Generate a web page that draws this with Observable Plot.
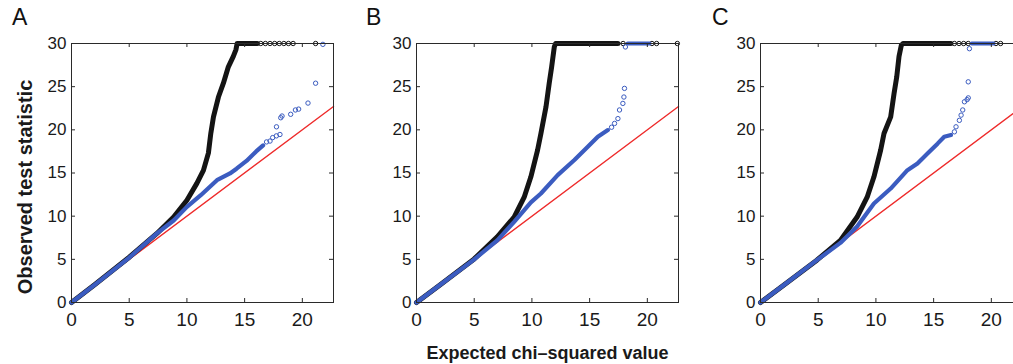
<!DOCTYPE html>
<html><head><meta charset="utf-8">
<script src="https://cdn.jsdelivr.net/npm/d3@7"></script>
<script src="https://cdn.jsdelivr.net/npm/@observablehq/plot@0.6"></script>
<style>
body{margin:0;background:#fff;}
#wrap{position:relative;width:1013px;height:364px;overflow:hidden;font-family:"Liberation Sans",Arial,sans-serif;}
.panel{position:absolute;top:0;}
.letter{position:absolute;top:4px;font-size:23px;color:#111;}
</style></head>
<body><div id="wrap"></div>
<script>
const xTicks = [0, 5, 10, 15, 20];
const yTicks = [0, 5, 10, 15, 20, 25, 30];
const panelLetters = ["A", "B", "C"];
const xDomain = [0, 22.7];
const yDomain = [0, 30];
const yLabel = "Observed test statistic";
const xLabel = "Expected chi\u2013squared value";

// Panel A
const aBlackX = [0, 2, 5, 7.4, 8.85, 10, 10.86, 11.43, 11.86, 12.07, 12.3, 12.73, 13.16, 13.59, 14.02, 14.25, 14.35, 16.1];
const aBlackY = [0, 2.05, 5.25, 8.0, 9.9, 11.85, 13.8, 15.3, 17.3, 19.6, 21.5, 23.8, 25.4, 27.3, 28.5, 29.3, 30, 30];
const aBlackCapX = [16.4, 16.8, 17.2, 17.6, 18.0, 18.4, 18.8, 19.2, 21.15];
const aBlueX = [0, 2, 5, 7.4, 8.85, 10, 11.2, 12.6, 13.73, 14.3, 15.16, 16.0, 16.6];
const aBlueY = [0, 2.05, 5.2, 8.0, 9.5, 11.08, 12.43, 14.17, 14.95, 15.5, 16.4, 17.5, 18.2];
const aBlueDotX = [16.9, 17.2, 17.43, 17.75, 18.06, 17.76, 18.13, 18.24, 18.99, 19.4, 19.68, 20.49, 21.15, 21.78];
const aBlueDotY = [18.6, 18.7, 19.1, 19.3, 19.46, 20.35, 21.4, 21.6, 21.8, 22.3, 22.4, 23.1, 25.4, 29.9];
const aBlueCapX = [];

// Panel B
const bBlackX = [0, 2, 5, 7.0, 8.46, 9.33, 9.91, 10.49, 10.78, 11.22, 11.5, 11.71, 11.94, 12.05, 17.45];
const bBlackY = [0, 2.0, 5.05, 7.6, 9.9, 12.2, 14.56, 17.65, 19.58, 22.67, 25.4, 27.3, 29.6, 30, 30];
const bBlackCapX = [17.9, 20.4, 20.8, 22.6];
const bBlueX = [0, 2, 5, 7.0, 8.46, 9.91, 10.78, 12.23, 13.68, 14.84, 15.71, 16.58];
const bBlueY = [0, 2.0, 5.0, 7.2, 9.34, 11.6, 12.63, 14.75, 16.5, 18.03, 19.2, 19.97];
const bBlueDotX = [16.9, 17.16, 17.45, 17.59, 17.88, 17.97, 18.02, 18.1];
const bBlueDotY = [20.3, 20.74, 21.3, 22.3, 23.06, 23.8, 24.8, 29.6];
const bBlueCapX = [18.3, 20.2];

// Panel C
const cBlackX = [0, 2, 4.88, 6.92, 8.37, 9.24, 9.83, 10.41, 10.7, 11.28, 11.57, 11.8, 12.0, 12.2, 12.35, 16.5];
const cBlackY = [0, 2.0, 4.9, 7.2, 9.9, 12.2, 14.56, 17.65, 19.58, 21.5, 24.2, 26.1, 28.5, 29.8, 30, 30];
const cBlackCapX = [16.8, 17.2, 17.6, 18.0, 20.4, 20.8];
const cBlueX = [0, 2, 4.88, 6.92, 8.37, 9.83, 11.28, 12.73, 13.6, 14.47, 15.34, 15.92, 16.5];
const cBlueY = [0, 2.0, 4.9, 6.9, 8.8, 11.47, 13.2, 15.33, 16.1, 17.26, 18.4, 19.2, 19.4];
const cBlueDotX = [16.8, 16.94, 17.23, 17.38, 17.52, 17.67, 17.9, 18.0, 18.0, 18.1];
const cBlueDotY = [19.77, 20.35, 21.1, 21.7, 22.3, 23.25, 23.5, 23.7, 25.56, 29.4];
const cBlueCapX = [18.3, 20.2];

const BLACK = "#141414", BLUE = "#3b5cc0", RED = "#ee2b2b", FRAME = "#2a2a2a";
const FONT = "Liberation Sans, Arial, Helvetica, sans-serif";
const zip = (xs, ys) => xs.map((x, i) => ({x, y: ys[i]}));
const cap = xs => xs.map(x => ({x, y: yDomain[1]}));

const panels = [
  {letter: panelLetters[0], left: 0, ml: 71, letterLeft: 12, bx: aBlackX, by: aBlackY, bc: aBlackCapX, ux: aBlueX, uy: aBlueY, udx: aBlueDotX, udy: aBlueDotY, uc: aBlueCapX, yLab: true},
  {letter: panelLetters[1], left: 366, ml: 50, letterLeft: 366, bx: bBlackX, by: bBlackY, bc: bBlackCapX, ux: bBlueX, uy: bBlueY, udx: bBlueDotX, udy: bBlueDotY, uc: bBlueCapX, xLab: true},
  {letter: panelLetters[2], left: 710, ml: 50, letterLeft: 712, bx: cBlackX, by: cBlackY, bc: cBlackCapX, ux: cBlueX, uy: cBlueY, udx: cBlueDotX, udy: cBlueDotY, uc: cBlueCapX}
];

const wrap = document.getElementById("wrap");
const innerW = 262, innerH = 259, mt = 43, mr = 10, mb = 62;
const tick = 4;

for (const p of panels) {
  const refLine = xDomain.map(v => ({x: v, y: v}));
  const marks = [
    Plot.line(refLine, {x: "x", y: "y", stroke: RED, strokeWidth: 1.4}),
    Plot.line(zip(p.bx, p.by), {x: "x", y: "y", stroke: BLACK, strokeWidth: 5, strokeLinecap: "round", strokeLinejoin: "round"}),
    Plot.dot(cap(p.bc), {x: "x", y: "y", r: 2.2, stroke: BLACK, strokeWidth: 1, fill: "none"}),
    Plot.line(zip(p.ux, p.uy), {x: "x", y: "y", stroke: BLUE, strokeWidth: 4.2, strokeLinecap: "round", strokeLinejoin: "round"}),
    Plot.line(cap(p.uc), {x: "x", y: "y", stroke: BLUE, strokeWidth: 4}),
    Plot.dot(zip(p.udx, p.udy), {x: "x", y: "y", r: 2.2, stroke: BLUE, strokeWidth: 1, fill: "none"}),
    Plot.frame({stroke: FRAME, strokeWidth: 1}),
    Plot.tickX(xTicks, {x: d => d, insetTop: innerH - tick, stroke: FRAME}),
    Plot.tickX(xTicks, {x: d => d, insetBottom: innerH - tick, stroke: FRAME}),
    Plot.tickY(yTicks, {y: d => d, insetRight: innerW - tick, stroke: FRAME}),
    Plot.tickY(yTicks, {y: d => d, insetLeft: innerW - tick, stroke: FRAME}),
    Plot.axisX({ticks: xTicks, tickSize: 0, tickPadding: 10, fontSize: 19, label: null, fill: "#1a1a1a"}),
    Plot.axisY({ticks: yTicks, tickSize: 0, tickPadding: 5, fontSize: 17, label: null, fill: "#1a1a1a"})
  ];
  if (p.yLab) marks.push(Plot.text([yLabel], {frameAnchor: "left", textAnchor: "middle", rotate: -90, dx: -46, dy: 14, lineAnchor: "middle", fontSize: 20, fontWeight: "bold", fill: "#1a1a1a"}));
  if (p.xLab) marks.push(Plot.text([xLabel], {frameAnchor: "bottom", textAnchor: "middle", dy: 56, lineAnchor: "bottom", fontSize: 18, fontWeight: "bold", fill: "#1a1a1a"}));

  const svg = Plot.plot({
    width: p.ml + innerW + mr,
    height: mt + innerH + mb,
    marginLeft: p.ml, marginRight: mr, marginTop: mt, marginBottom: mb,
    x: {domain: xDomain},
    y: {domain: yDomain},
    style: {fontFamily: FONT, background: "transparent", overflow: "visible"},
    marks
  });
  svg.classList.add("panel");
  svg.style.left = p.left + "px";
  svg.style.maxWidth = "none";
  wrap.appendChild(svg);
  const L = document.createElement("div");
  L.className = "letter";
  L.style.left = p.letterLeft + "px";
  L.textContent = p.letter;
  wrap.appendChild(L);
}
</script>
</body></html>
